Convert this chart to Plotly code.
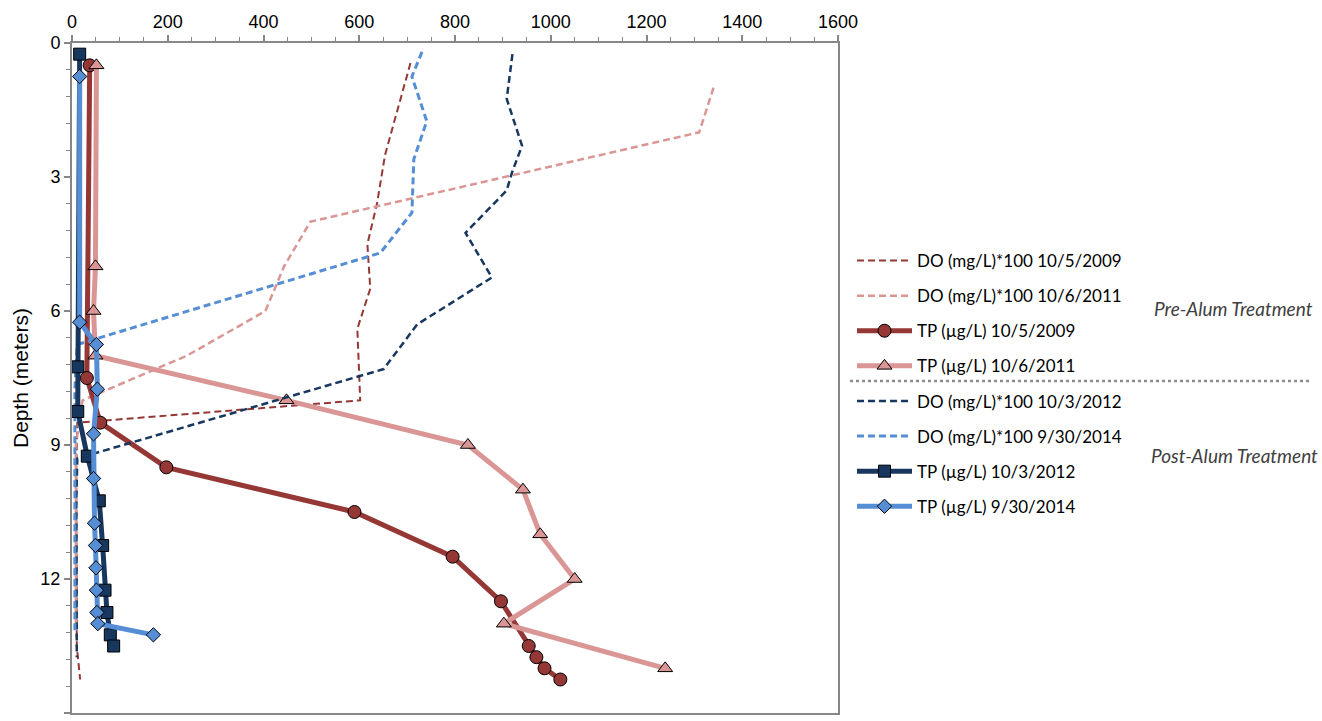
import plotly.graph_objects as go

# ---------------- data ----------------
do2009_depth = [0.45, 2.5, 3.6, 4.5, 5.5, 6.4, 8.0, 8.5, 9.5, 10.5, 11.5, 12.5, 13.5, 14.25]
do2009_val = [707, 654, 637, 617, 623, 596, 602, 11, 9, 9, 9, 9, 10, 17]

do2011_depth = [1.0, 2.0, 4.0, 5.0, 6.0, 7.0, 8.0, 9.0, 10.0, 11.0, 12.0, 13.0]
do2011_val = [1340, 1310, 498, 443, 404, 240, 22, 8, 8, 8, 8, 8]

do2012_depth = [0.25, 1.25, 2.3, 2.9, 3.3, 4.25, 5.25, 6.3, 7.3, 9.3, 10.25, 11.25, 12.25, 13.25, 13.75]
do2012_val = [920, 908, 940, 919, 908, 822, 877, 721, 651, 11, 9, 9, 9, 9, 10]

do2014_depth = [0.2, 0.75, 1.75, 2.6, 3.8, 4.7, 6.75, 7.75, 8.75, 9.75, 10.75, 11.75, 12.75, 13.2]
do2014_val = [731, 710, 741, 714, 710, 644, 11, 6, 6, 6, 6, 6, 6, 6]

tp2009_depth = [0.5, 7.5, 8.5, 9.5, 10.5, 11.5, 12.5, 13.5, 13.75, 14.0, 14.25]
tp2009_val = [37, 31, 59, 197, 590, 795, 896, 954, 970, 987, 1020]

tp2011_depth = [0.5, 5.0, 6.0, 7.0, 8.0, 9.0, 10.0, 11.0, 12.0, 13.0, 14.0]
tp2011_val = [51, 49, 45, 49, 448, 827, 942, 978, 1050, 902, 1239]

tp2012_depth = [0.25, 7.25, 8.25, 9.25, 10.25, 11.25, 12.25, 12.75, 13.25, 13.5]
tp2012_val = [16, 12, 12, 32, 57, 64, 69, 73, 80, 87]

tp2014_depth = [0.75, 6.25, 6.75, 7.75, 8.75, 9.75, 10.75, 11.25, 11.75, 12.25, 12.75, 13.0, 13.25]
tp2014_val = [16, 16, 51, 53, 45, 45, 47, 49, 50, 51, 52, 54, 170]

x_ticks = [0, 200, 400, 600, 800, 1000, 1200, 1400, 1600]
y_ticks = [0, 3, 6, 9, 12, 15]

DARKRED = "#953735"
PINK = "#D99694"
NAVY = "#17375E"
LBLUE = "#558ED5"

W, H = 1322, 721
ML, MR, MT, MB = 72, 484, 43, 8
PW, PH = W - ML - MR, H - MT - MB


def px_x(p):
    return (p - ML) / PW


def px_y(p):
    return (H - MB - p) / PH


fig = go.Figure()


def do_trace(x, y, name, color, width):
    return go.Scatter(x=x, y=y, mode="lines", name=name, legendgroup=name,
                      line=dict(color=color, width=width, dash="7px,4px"))


def tp_trace(x, y, name, color, symbol, size):
    return go.Scatter(x=x, y=y, mode="lines+markers", name=name, legendgroup=name,
                      line=dict(color=color, width=5),
                      marker=dict(symbol=symbol, size=size, color=color,
                                  line=dict(color="black", width=1)))


fig.add_trace(do_trace(do2009_val, do2009_depth, "DO (mg/L)*100 10/5/2009", DARKRED, 2))
fig.add_trace(do_trace(do2011_val, do2011_depth, "DO (mg/L)*100 10/6/2011", PINK, 2.5))
fig.add_trace(tp_trace(tp2009_val, tp2009_depth, "TP (µg/L) 10/5/2009", DARKRED, "circle", 13))
fig.add_trace(tp_trace(tp2011_val, tp2011_depth, "TP (µg/L) 10/6/2011", PINK, "triangle-up", 13))
fig.add_trace(do_trace(do2012_val, do2012_depth, "DO (mg/L)*100 10/3/2012", NAVY, 2.5))
fig.add_trace(do_trace(do2014_val, do2014_depth, "DO (mg/L)*100 9/30/2014", LBLUE, 3))
fig.add_trace(tp_trace(tp2012_val, tp2012_depth, "TP (µg/L) 10/3/2012", NAVY, "square", 12))
fig.add_trace(tp_trace(tp2014_val, tp2014_depth, "TP (µg/L) 9/30/2014", LBLUE, "diamond", 11))

axis_common = dict(
    showline=True, linecolor="#878787", linewidth=2, mirror=True,
    ticks="outside", tickcolor="#878787", tickwidth=1.5, ticklen=6,
    showgrid=False, zeroline=False, automargin=False,
    tickfont=dict(family="Liberation Sans, Arial", size=18, color="black"),
)

fig.update_xaxes(range=[0, 1600], tickvals=x_ticks, side="top",
                 minor=dict(dtick=50, ticks="outside", ticklen=4, tickcolor="#878787", tickwidth=1),
                 **axis_common)
fig.update_yaxes(range=[15, 0], tickvals=y_ticks,
                 minor=dict(dtick=0.6, ticks="outside", ticklen=4, tickcolor="#878787", tickwidth=1),
                 title=dict(text="Depth (meters)", font=dict(family="Liberation Sans, Arial", size=21, color="black"), standoff=6),
                 **axis_common)

fig.update_layout(
    width=W, height=H,
    margin=dict(l=ML, r=MR, t=MT, b=MB, autoexpand=False),
    paper_bgcolor="white", plot_bgcolor="white",
    showlegend=True,
    legend=dict(
        x=852 / W, y=1 - 243 / H, xref="container", yref="container",
        xanchor="left", yanchor="top",
        font=dict(family="Lato, Carlito, sans-serif", size=17, color="black"),
        tracegroupgap=10, itemwidth=55,
        bgcolor="rgba(0,0,0,0)",
    ),
    shapes=[dict(type="line", xref="paper", yref="paper",
                 x0=px_x(850), x1=px_x(1312), y0=px_y(381), y1=px_y(381),
                 line=dict(color="#8c8c8c", width=2.5, dash="dot"))],
    annotations=[
        dict(text="<i>Pre-Alum Treatment</i>", xref="paper", yref="paper",
             x=px_x(1315), y=px_y(308),
             xanchor="right", yanchor="middle", showarrow=False,
             font=dict(family="Lato, Carlito, sans-serif", size=19, color="#404040")),
        dict(text="<i>Post-Alum Treatment</i>", xref="paper", yref="paper",
             x=px_x(1320), y=px_y(455),
             xanchor="right", yanchor="middle", showarrow=False,
             font=dict(family="Lato, Carlito, sans-serif", size=19, color="#404040")),
    ],
)

fig.write_html("out.html")
